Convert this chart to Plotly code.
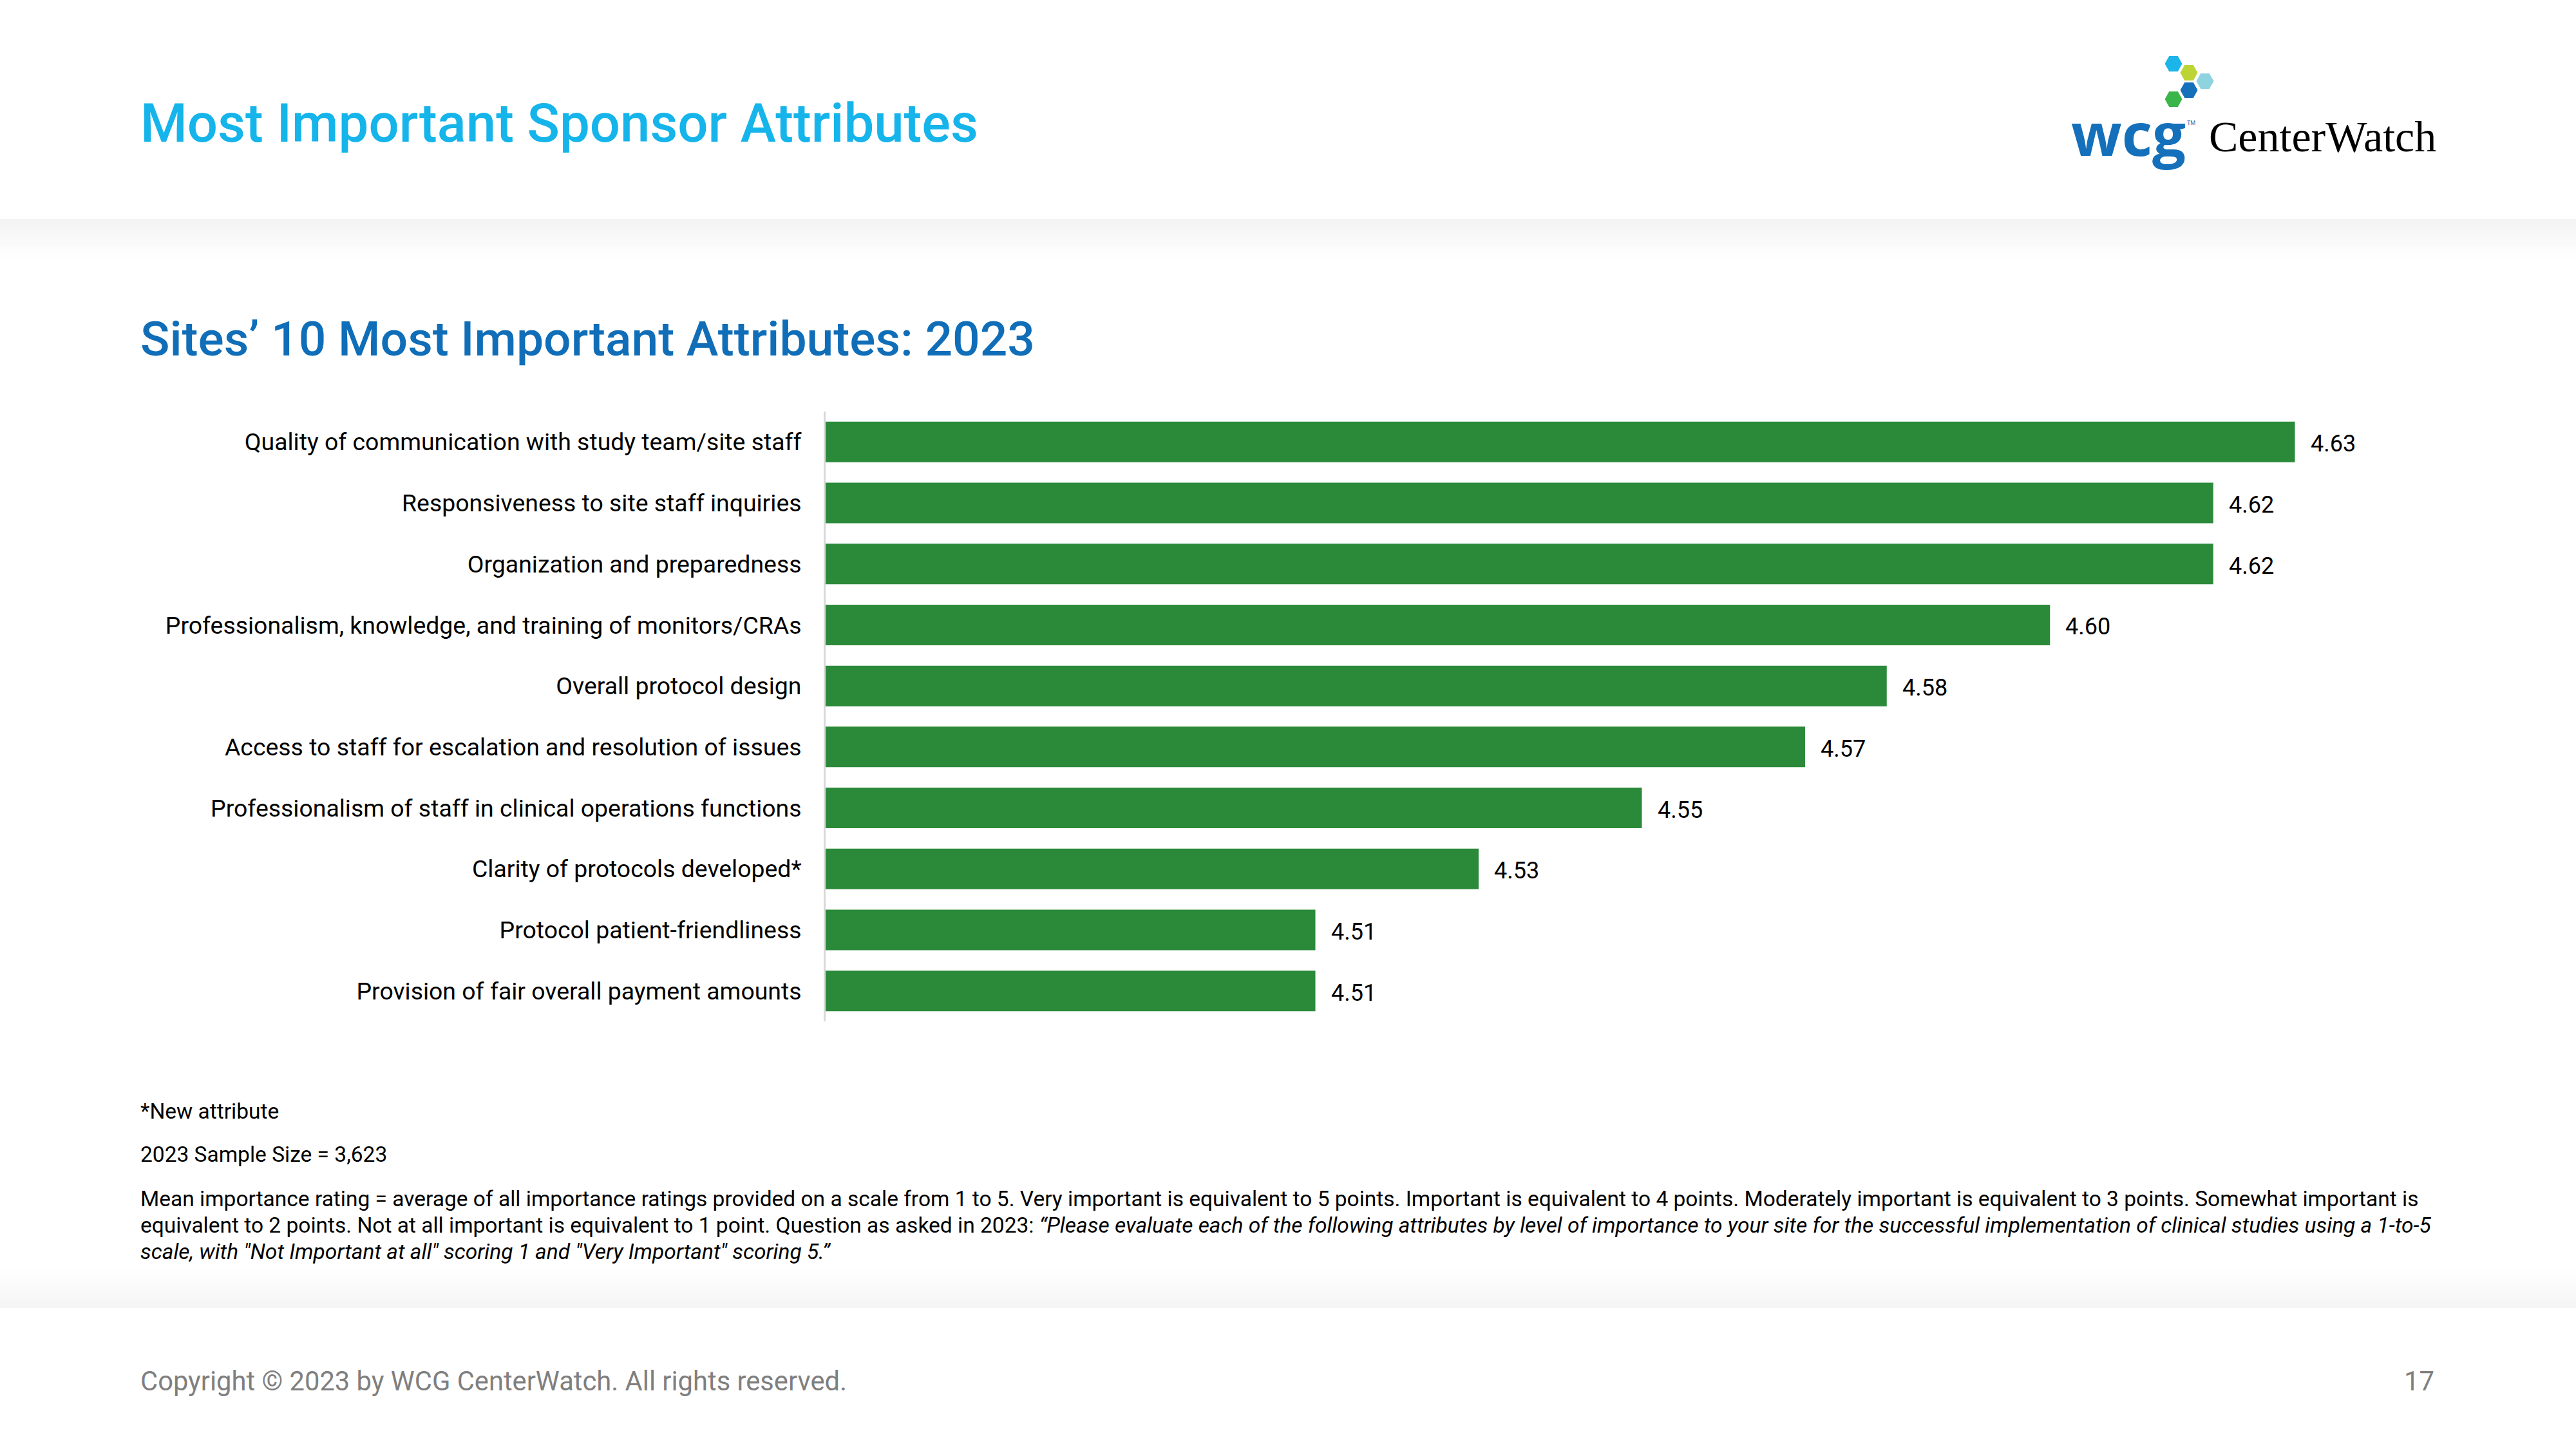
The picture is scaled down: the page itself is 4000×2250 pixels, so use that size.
import plotly.graph_objects as go

W, H = 4000, 2250

categories = [
    "Quality of communication with study team/site staff",
    "Responsiveness to site staff inquiries",
    "Organization and preparedness",
    "Professionalism, knowledge, and training of monitors/CRAs",
    "Overall protocol design",
    "Access to staff for escalation and resolution of issues",
    "Professionalism of staff in clinical operations functions",
    "Clarity of protocols developed*",
    "Protocol patient-friendliness",
    "Provision of fair overall payment amounts",
]
values = [4.63, 4.62, 4.62, 4.60, 4.58, 4.57, 4.55, 4.53, 4.51, 4.51]
value_labels = ["4.63", "4.62", "4.62", "4.60", "4.58", "4.57", "4.55", "4.53", "4.51", "4.51"]

title_text = "Most Important Sponsor Attributes"
subtitle_text = "Sites’ 10 Most Important Attributes: 2023"
note1 = "*New attribute"
note2 = "2023 Sample Size = 3,623"
note3_lines = [
    "Mean importance rating = average of all importance ratings provided on a scale from 1 to 5. Very important is equivalent to 5 points. Important is equivalent to 4 points. Moderately important is equivalent to 3 points. Somewhat important is",
    "equivalent to 2 points. Not at all important is equivalent to 1 point. Question as asked in 2023: <i>“Please evaluate each of the following attributes by level of importance to your site for the successful implementation of clinical studies using a 1-to-5</i>",
    "<i>scale, with \"Not Important at all\" scoring 1 and \"Very Important\" scoring 5.”</i>",
]
footer_text = "Copyright © 2023 by WCG CenterWatch. All rights reserved."
page_no = "17"

def px(x):
    return x / W

def py(y):
    return 1 - y / H

BAR_COLOR = "#2B8A3A"
FONT = "Roboto"

fig = go.Figure()
fig.add_trace(go.Bar(
    x=values, y=categories, orientation="h",
    marker=dict(color=BAR_COLOR, line=dict(width=0)),
    width=0.665, hoverinfo="skip",
))

annotations = []
for c, v, t in zip(categories, values, value_labels):
    annotations.append(dict(x=v, y=c, xref="x", yref="y", text=t, showarrow=False,
                            xanchor="left", yanchor="middle", xshift=22, yshift=-3,
                            font=dict(family=FONT, size=36, color="#000000")))

def ptext(x, y, text, size, color, xanchor="left", weight=None, family=FONT):
    f = dict(family=family, size=size, color=color)
    if weight:
        f["weight"] = weight
    annotations.append(dict(x=px(x), y=py(y), xref="paper", yref="paper", text=text,
                            showarrow=False, xanchor=xanchor, yanchor="middle",
                            align="left", font=f))

ptext(216, 191, title_text, 83.3, "#15B4EA", weight=500)
ptext(216, 526, subtitle_text, 75, "#106EB8", weight=500)
ptext(216, 1725, note1, 33.5, "#000000")
ptext(216, 1792, note2, 33.5, "#000000")
for i, line in enumerate(note3_lines):
    ptext(216, 1861 + 41 * i, line, 33.5, "#000000")
ptext(216, 2144, footer_text, 41.7, "#7F7F7F")
ptext(3782, 2144, page_no, 41.7, "#7F7F7F", xanchor="right")

# logo text
ptext(3214, 206, "<b>wcg</b>", 92, "#1470BA", family="Open Sans")
ptext(3394, 191, "TM", 9, "#1470BA")
ptext(3428, 212, "CenterWatch", 68, "#000000", family="Liberation Serif")

shapes = []
# header shadow
steps = 15
for i in range(steps):
    y0 = 340 + i * 4
    a = 0.045 * (1 - i / steps)
    shapes.append(dict(type="rect", xref="paper", yref="paper", x0=0, x1=1,
                       y0=py(y0), y1=py(y0 + 4), line=dict(width=0),
                       fillcolor=f"rgba(0,0,0,{a:.4f})", layer="below"))
# footer shadow
for i in range(steps):
    y1 = 2031 - i * 4
    a = 0.04 * (1 - i / steps)
    shapes.append(dict(type="rect", xref="paper", yref="paper", x0=0, x1=1,
                       y0=py(y1 - 4), y1=py(y1), line=dict(width=0),
                       fillcolor=f"rgba(0,0,0,{a:.4f})", layer="below"))

# logo hexagons
hexes = [(3375, 99, "#1CB5EA"), (3399, 113, "#BCD435"), (3424, 126, "#8ED3E0"),
         (3399, 140, "#1470BA"), (3375, 154, "#3AB54A")]
hw, hh = 28, 25
for cx, cy, col in hexes:
    pts = [(cx - hw / 2, cy), (cx - hw / 4, cy - hh / 2), (cx + hw / 4, cy - hh / 2),
           (cx + hw / 2, cy), (cx + hw / 4, cy + hh / 2), (cx - hw / 4, cy + hh / 2)]
    path = "M " + " L ".join(f"{px(a):.6f},{py(b):.6f}" for a, b in pts) + " Z"
    shapes.append(dict(type="path", xref="paper", yref="paper", path=path,
                       fillcolor=col, line=dict(width=1, color="white")))

fig.update_layout(
    width=W, height=H, margin=dict(l=0, r=0, t=0, b=0),
    paper_bgcolor="white", plot_bgcolor="white",
    showlegend=False, bargap=0.335,
    xaxis=dict(domain=[px(1282), px(3782)], range=[4.45, 4.45 + 2500 / 12675],
               showgrid=False, zeroline=False, showline=False,
               showticklabels=False, ticks=""),
    yaxis=dict(domain=[py(1586), py(639)], autorange="reversed",
               showgrid=False, zeroline=False, showline=True,
               linecolor="#D9D9D9", linewidth=3, ticks="",
               ticklabelstandoff=27,
               tickfont=dict(family=FONT, size=37.4, color="#000000")),
    annotations=annotations, shapes=shapes,
)

fig.write_html("out.html")
